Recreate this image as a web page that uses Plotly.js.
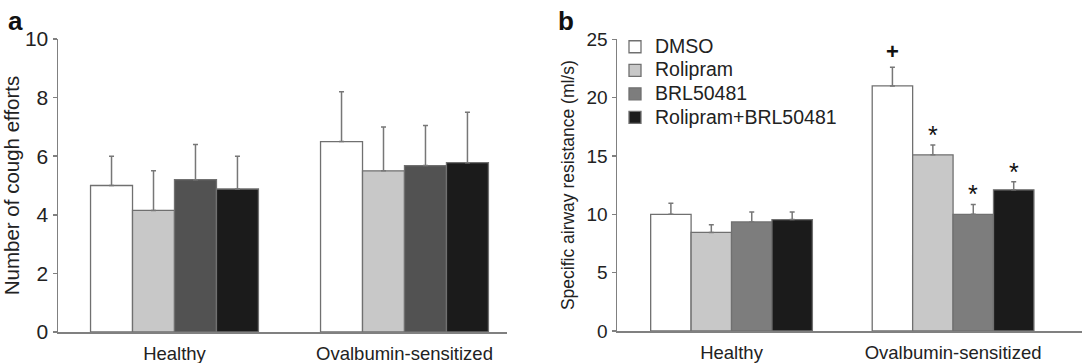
<!DOCTYPE html>
<html>
<head>
<meta charset="utf-8">
<script src="https://cdn.plot.ly/plotly-3.0.1.min.js"></script>
<style>html,body{margin:0;padding:0;background:#fff;}#chart{width:1082px;height:363px;}</style>
</head>
<body>
<div id="chart"></div>
<script>
// ---- data ----
const groups = ["Healthy", "Ovalbumin-sensitized"];
const seriesNames = ["DMSO", "Rolipram", "BRL50481", "Rolipram+BRL50481"];

// Panel a: number of cough efforts
const coughDMSO = [5.0, 6.5];
const coughDMSOErr = [1.0, 1.7];
const coughRolipram = [4.15, 5.5];
const coughRolipramErr = [1.35, 1.5];
const coughBRL = [5.2, 5.68];
const coughBRLErr = [1.2, 1.37];
const coughCombo = [4.88, 5.78];
const coughComboErr = [1.12, 1.72];

// Panel b: specific airway resistance (ml/s)
const srawDMSO = [10.0, 21.0];
const srawDMSOErr = [0.95, 1.6];
const srawRolipram = [8.45, 15.1];
const srawRolipramErr = [0.65, 0.85];
const srawBRL = [9.35, 10.0];
const srawBRLErr = [0.85, 0.85];
const srawCombo = [9.55, 12.1];
const srawComboErr = [0.65, 0.7];

// significance marks (panel b)
const marksDMSO = ["", "+"];
const marksRolipram = ["", "*"];
const marksBRL = ["", "*"];
const marksCombo = ["", "*"];

const yTicksA = [0, 2, 4, 6, 8, 10];
const yTicksB = [0, 5, 10, 15, 20, 25];

// ---- styling ----
const colorsA = ["#ffffff", "#c8c8c8", "#525252", "#1b1b1b"];
const colorsB = ["#ffffff", "#c8c8c8", "#7d7d7d", "#1b1b1b"];
const lineCol = "#808080";
const txtCol = "#222222";
const FONT = "Liberation Sans, Arial, sans-serif";
const BARGAP = 0.27;

const dataA = [
  [coughDMSO, coughDMSOErr], [coughRolipram, coughRolipramErr],
  [coughBRL, coughBRLErr], [coughCombo, coughComboErr]
];
const dataB = [
  [srawDMSO, srawDMSOErr], [srawRolipram, srawRolipramErr],
  [srawBRL, srawBRLErr], [srawCombo, srawComboErr]
];
const marksB = [marksDMSO, marksRolipram, marksBRL, marksCombo];

function barTrace(vals, errs, i, colors, xa, ya, showleg) {
  return {
    type: "bar", x: groups, y: vals,
    name: '<span style="font-size:19.5px">' + seriesNames[i] + '</span>',
    xaxis: xa, yaxis: ya, showlegend: showleg,
    marker: {color: colors[i], line: {color: "#707070", width: 1.3}},
    error_y: {type: "data", symmetric: false, array: errs, arrayminus: errs.map(() => 0),
              color: "#777777", thickness: 1.5, width: 2.5},
    hoverinfo: "skip"
  };
}

const traces = [];
dataA.forEach((d, i) => traces.push(barTrace(d[0], d[1], i, colorsA, "x", "y", false)));
dataB.forEach((d, i) => traces.push(barTrace(d[0], d[1], i, colorsB, "x2", "y2", true)));

const annotations = [];
const groupW = 1 - BARGAP;
dataB.forEach((d, i) => {
  groups.forEach((g, gi) => {
    const m = marksB[i][gi];
    if (!m) return;
    annotations.push({
      xref: "x2", yref: "y2", x: gi + (i - 1.5) * groupW / 4, y: d[0][gi] + d[1][gi],
      text: m === "+" ? "<b>+</b>" : m, showarrow: false, yanchor: "bottom", yshift: m === "+" ? 1 : -6,
      font: {family: FONT, size: m === "+" ? 22 : 25, color: "#111"}
    });
  });
});
annotations.push({xref: "paper", yref: "paper", x: 6/1082, y: 1 - 4/363, xanchor: "left", yanchor: "top",
  text: "<b>a</b>", showarrow: false, font: {family: FONT, size: 26, color: "#111"}});
annotations.push({xref: "paper", yref: "paper", x: 556/1082, y: 1 - 4/363, xanchor: "left", yanchor: "top",
  text: "<b>b</b>", showarrow: false, font: {family: FONT, size: 26, color: "#111"}});

function yAxis(domain, ticks, title, tsize, titleSize, standoff, anchor) {
  return {
    domain: domain, range: [0, ticks[ticks.length - 1]], tickvals: ticks, ticktext: ticks.map(String),
    showline: true, linecolor: lineCol, linewidth: 1.5, ticks: "outside", ticklen: 4, tickcolor: lineCol,
    tickwidth: 1.5, showgrid: false, zeroline: false, anchor: anchor, fixedrange: true,
    tickfont: {family: FONT, size: tsize, color: txtCol},
    title: {text: title, font: {family: FONT, size: titleSize, color: txtCol}, standoff: standoff}
  };
}
function xAxis(domain, range, anchor) {
  return {
    domain: domain, range: range, type: "category", showline: true, linecolor: lineCol, linewidth: 1.5,
    ticks: "", showgrid: false, zeroline: false, anchor: anchor, fixedrange: true, ticklabelstandoff: 4,
    tickfont: {family: FONT, size: 18.5, color: txtCol}
  };
}

const layout = {
  width: 1082, height: 363,
  margin: {l: 0, r: 0, t: 0, b: 0},
  paper_bgcolor: "#fff", plot_bgcolor: "#fff",
  barmode: "group", bargap: BARGAP, bargroupgap: 0,
  font: {family: FONT, color: txtCol},
  xaxis: xAxis([58/1082, 507/1082], [-0.5065, 1.4457], "y"),
  yaxis: yAxis([31/363, 324/363], yTicksA, "Number of cough efforts", 21, 20.5, 7, "x"),
  xaxis2: xAxis([617/1082, 1], [-0.517, 1.582], "y2"),
  yaxis2: yAxis([32/363, 323.7/363], yTicksB, "Specific airway resistance (ml/s)", 19, 17.5, 7, "x2"),
  legend: {x: 615/1082, y: 1 - 30/363, xanchor: "left", yanchor: "top", bgcolor: "rgba(0,0,0,0)",
           font: {family: FONT, size: 15.8, color: txtCol}, tracegroupgap: 0, itemwidth: 30},
  annotations: annotations,
  showlegend: true
};

Plotly.newPlot("chart", traces, layout, {displayModeBar: false, staticPlot: true});
</script>
</body>
</html>
